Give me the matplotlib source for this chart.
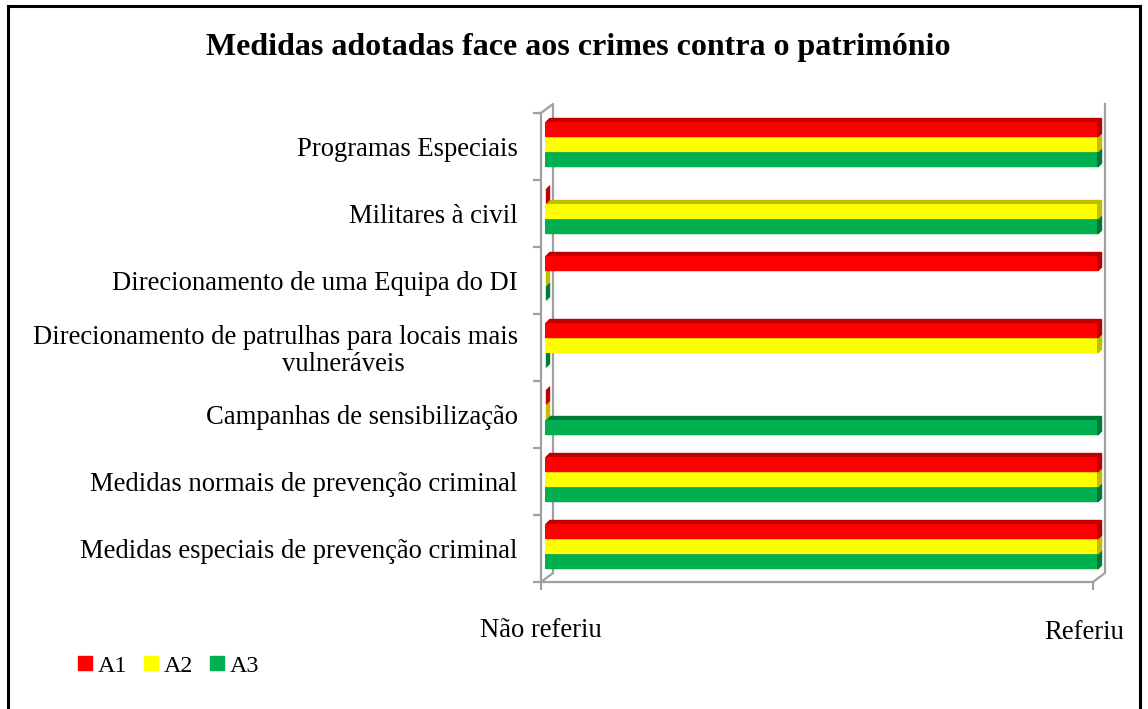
import numpy as np
import matplotlib
matplotlib.use("Agg")
import matplotlib.pyplot as plt
from matplotlib.transforms import ScaledTranslation
from matplotlib.lines import Line2D

# data (top to bottom), 1 = Referiu, 0 = Não referiu
categories = ["Programas Especiais",
              "Militares à civil",
              "Direcionamento de uma Equipa do DI",
              "Direcionamento de patrulhas para locais mais\nvulneráveis",
              "Campanhas de sensibilização",
              "Medidas normais de prevenção criminal",
              "Medidas especiais de prevenção criminal"]
a1 = [1, 0, 1, 1, 0, 1, 1]
a2 = [1, 1, 0, 1, 0, 1, 1]
a3 = [1, 1, 0, 0, 1, 1, 1]
series_names = ["A1", "A2", "A3"]
xtick_labels = ["Não referiu", "Referiu"]

colors = ["#FF0000", "#FFFF00", "#00B050"]
dark = ["#C00000", "#BFBF00", "#007A38"]

plt.rcParams["font.family"] = ["Liberation Serif", "DejaVu Serif"]

fig = plt.figure(figsize=(11.48, 7.09), dpi=100)
W, H = 1148, 709
ax = fig.add_axes([541 / W, 1 - 582 / H, (1093 - 541) / W, (582 - 113) / H])

def px(dx, dy):
    # offset in pixels (dpi 100)
    return ScaledTranslation(dx / 100, dy / 100, fig.dpi_scale_trans)

y = np.arange(len(categories))
h = 0.228
base = (4, 2)   # face offset in px
depth = 4       # 3d depth in px
vals = [a1, a2, a3]
offs = [-h, 0, h]
# draw bottom bar first so upper bar covers its top face
for s in [2, 1, 0]:
    for k in range(depth, 0, -1):
        ax.barh(y + offs[s], vals[s], height=h, color=dark[s], edgecolor=dark[s],
                linewidth=1.0, clip_on=False, zorder=3 + (2 - s) * 2,
                transform=ax.transData + px(base[0] + k, base[1] + k))
    ax.barh(y + offs[s], vals[s], height=h, color=colors[s], linewidth=0,
            clip_on=False, zorder=4 + (2 - s) * 2,
            transform=ax.transData + px(base[0], base[1]))

ax.set_xlim(0, 1)
ax.set_ylim(len(categories) - 0.5, -0.5)

gray = "#A0A0A0"
for side in ["top", "right"]:
    ax.spines[side].set_visible(False)
for side in ["left", "bottom"]:
    ax.spines[side].set_color(gray)
    ax.spines[side].set_linewidth(1.6)
    ax.spines[side].set_zorder(1)

fs = 19.2
# wrapped label: first line as tick label, second line placed like the original
first_lines = [c.split("\n")[0] for c in categories]
ax.set_yticks(y)
ax.set_yticklabels(first_lines, fontsize=fs)
ax.set_yticks(np.arange(len(categories) + 1) - 0.5, minor=True)
ax.tick_params(axis="y", which="major", length=0, pad=16.8)
ax.tick_params(axis="y", which="minor", length=5.8, width=1.6, color=gray)
for i, c in enumerate(categories):
    if "\n" in c:
        lab = ax.get_yticklabels()[i]
        lab.set_transform(lab.get_transform() + px(0, 13))
        ax.text(0, y[i], c.split("\n")[1], fontsize=fs, ha="center", va="center",
                transform=ax.get_yaxis_transform() + px(-198, -17))
ax.set_xticks([0, 1])
ax.set_xticklabels(xtick_labels, fontsize=fs)
ax.tick_params(axis="x", length=5.8, width=1.6, color=gray, pad=20)
xl = ax.get_xticklabels()
xl[1].set_transform(xl[1].get_transform() + px(-9, -2))

# back wall lines of the 3d frame
ddx = 12 / (1093 - 541)
ddy = 9 / (582 - 113)
frame = [([0, ddx, ddx], [1, 1 + ddy, ddy]),
         ([0, ddx], [0, ddy]),
         ([1, 1 + ddx, 1 + ddx], [0, ddy, 1 + ddy])]
for xs, ys in frame:
    ax.add_line(Line2D(xs, ys, transform=ax.transAxes, color=gray, lw=1.6,
                       clip_on=False, zorder=1))

fig.text(578 / W, 1 - 47 / H, "Medidas adotadas face aos crimes contra o património",
         ha="center", va="center", fontsize=23, fontweight="bold")

handles = [Line2D([], [], marker="s", linestyle="none", markersize=10,
                  markerfacecolor=c, markeredgecolor=c) for c in colors]
fig.legend(handles, series_names, loc="center left", bbox_to_anchor=(76 / W, 1 - 666 / H),
           ncol=3, frameon=False, fontsize=17.4, handlelength=0.75, handletextpad=0.15,
           columnspacing=0.62, borderpad=0, borderaxespad=0)

# outer border
for xs, ys in [([8 / W, 8 / W], [-0.05, 1 - 6 / H]),
               ([8 / W, 1140 / W], [1 - 6 / H, 1 - 6 / H]),
               ([1140 / W, 1140 / W], [1 - 6 / H, -0.05])]:
    fig.add_artist(Line2D(xs, ys, transform=fig.transFigure, color="black", lw=2.2))

fig.savefig("out.png", dpi=100)
